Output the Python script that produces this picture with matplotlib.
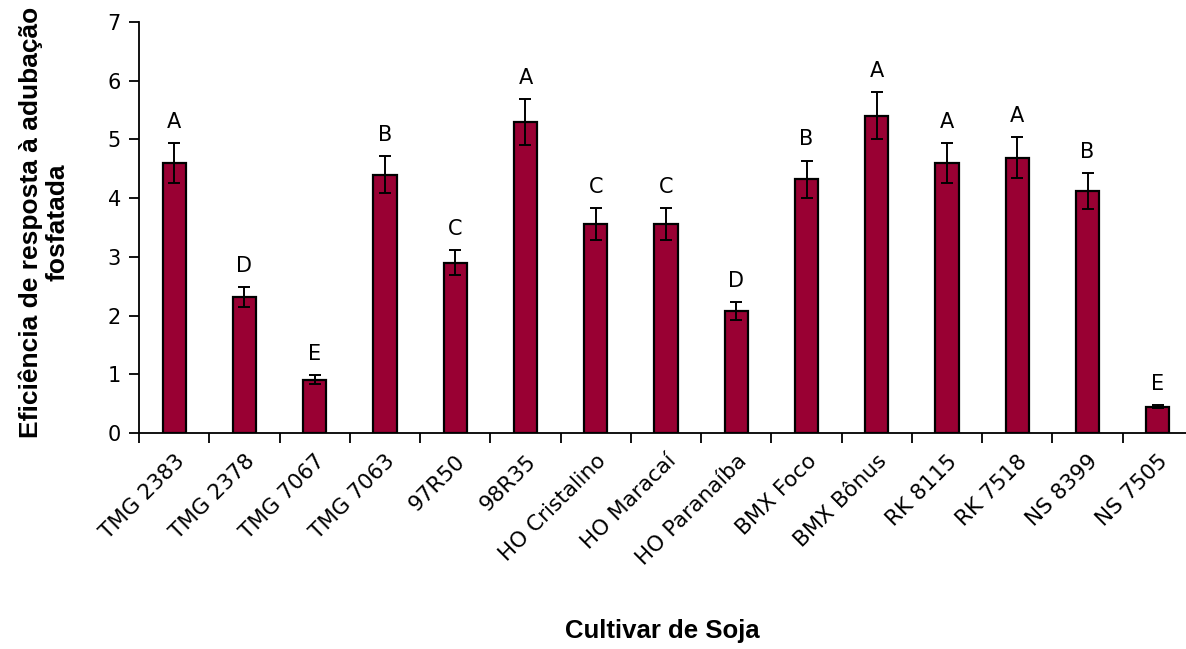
import matplotlib
matplotlib.use("Agg")
import matplotlib.pyplot as plt
import numpy as np

cultivars = ["TMG 2383", "TMG 2378", "TMG 7067", "TMG 7063", "97R50", "98R35",
             "HO Cristalino", "HO Maracaí", "HO Paranaíba", "BMX Foco", "BMX Bônus",
             "RK 8115", "RK 7518", "NS 8399", "NS 7505"]
values = [4.60, 2.32, 0.91, 4.40, 2.90, 5.30, 3.56, 3.56, 2.08, 4.32, 5.40, 4.60, 4.69, 4.12, 0.45]
errors = [0.34, 0.17, 0.07, 0.32, 0.21, 0.39, 0.27, 0.27, 0.15, 0.32, 0.40, 0.34, 0.35, 0.30, 0.03]
letters = ["A", "D", "E", "B", "C", "A", "C", "C", "D", "B", "A", "A", "A", "B", "E"]

W, H = 1186, 649
fig = plt.figure(figsize=(W / 100, H / 100), dpi=100)
ax = fig.add_axes([139 / W, 1 - 433 / H, (1193 - 139) / W, (433 - 22) / H])

tick_font = "DejaVu Sans"
x = np.arange(len(cultivars))
ax.bar(x, values, width=0.33, color="#990033", edgecolor="black", linewidth=1.6,
       yerr=errors, error_kw=dict(ecolor="black", elinewidth=1.4, capsize=4, capthick=1.4),
       zorder=2)

for xi, v, e, l in zip(x, values, errors, letters):
    ax.annotate(l, (xi, v + e), xytext=(0, 8), textcoords="offset points",
                ha="center", va="bottom", fontsize=15, family=tick_font)

ax.set_xlim(-0.5, len(cultivars) - 0.5)
ax.set_ylim(0, 7)
ax.set_yticks(range(0, 8))
ax.set_yticklabels([str(i) for i in range(0, 8)], fontsize=15, family=tick_font)

ax.set_xticks(x)
ax.set_xticklabels(cultivars, rotation=45, ha="right", va="top", rotation_mode="anchor",
                   fontsize=15.5, family=tick_font)
ax.tick_params(axis="x", which="major", length=0, pad=13)
ax.set_xticks(np.arange(-0.5, len(cultivars), 1.0), minor=True)
ax.tick_params(axis="x", which="minor", length=7, width=1.3, direction="out")
ax.tick_params(axis="y", length=7, width=1.3, direction="out", pad=6)

for s in ["top", "right"]:
    ax.spines[s].set_visible(False)
for s in ["left", "bottom"]:
    ax.spines[s].set_linewidth(1.3)

fig.text(44 / W, 1 - 222 / H, "Eficiência de resposta à adubação\nfosfatada",
         rotation=90, ha="center", va="center", fontsize=19, fontweight="bold",
         family="Liberation Sans", linespacing=1.1)
fig.text(662 / W, 1 - 631 / H, "Cultivar de Soja", ha="center", va="center",
         fontsize=18.5, fontweight="bold", family="Liberation Sans")

fig.savefig("out.png", dpi=100)
